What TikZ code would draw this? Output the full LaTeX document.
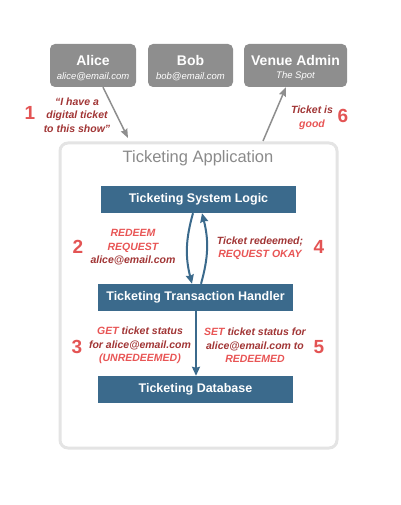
\documentclass[tikz,border=0pt]{standalone}
\usepackage{fontspec}
\setmainfont{Liberation Sans}
\usetikzlibrary{arrows.meta}
\definecolor{boxgray}{HTML}{8E8E8E}
\definecolor{appgray}{HTML}{E4E4E4}
\definecolor{titlegray}{HTML}{8A8A8A}
\definecolor{appblue}{HTML}{3B6A8C}
\definecolor{darkred}{HTML}{A13535}
\definecolor{lightred}{HTML}{E85555}
\definecolor{numred}{HTML}{E35454}
\tikzset{
  userbox/.style={fill=boxgray, rounded corners=5pt, minimum height=43pt, inner sep=0pt},
  usertext/.style={inner sep=0pt, text=white, align=center},
  bluebox/.style={fill=appblue, minimum width=195pt, minimum height=27pt, inner sep=0pt, text=white, font=\fontsize{12.5}{14}\selectfont\bfseries},
  lbl/.style={align=center, inner sep=0pt, text=darkred, font=\fontsize{10.5}{13.5}\selectfont\bfseries\itshape},
  num/.style={inner sep=0pt, text=numred, font=\fontsize{19}{20}\selectfont\bfseries},
  grayarrow/.style={draw=boxgray, line width=1.5pt, -{Stealth[length=9pt,width=7pt,inset=1pt]}},
  bluearrow/.style={draw=appblue, line width=2pt, -{Stealth[length=9pt,width=8pt,inset=1pt]}},
}
\newcommand{\lr}[1]{\textcolor{lightred}{#1}}
\newcommand{\uname}[1]{{\fontsize{14}{16}\selectfont\bfseries #1}}
\newcommand{\usub}[1]{{\fontsize{9.5}{11}\selectfont\itshape #1}}
\begin{document}
\begin{tikzpicture}[x=1pt,y=-1pt]
\useasboundingbox (0,0) rectangle (400,505);
% application frame
\draw[appgray, line width=3pt, rounded corners=8pt] (60,143) rectangle (337,448);
\node[text=titlegray, font=\fontsize{16.5}{18}\selectfont, inner sep=0pt] (title) at (198,158) {Ticketing Application};
% users
\node[userbox, minimum width=86pt] (alice) at (93,65.5) {};
\node[userbox, minimum width=85pt] (bob) at (190.5,65.5) {};
\node[userbox, minimum width=103pt] (venue) at (295.5,65.5) {};
\node[usertext] (alicet) at (93,68) {\uname{Alice}\\[1.5pt]\usub{alice@email.com}};
\node[usertext] (bobt) at (190.5,68) {\uname{Bob}\\[1.5pt]\usub{bob@email.com}};
\node[usertext] (venuet) at (295.5,68) {\uname{Venue Admin}\\[1.5pt]\usub{The Spot}};
% blue boxes
\node[bluebox] (logic) at (198.5,199.5) {Ticketing System Logic};
\node[bluebox] (handler) at (195.5,297.5) {Ticketing Transaction Handler};
\node[bluebox] (db) at (195.5,389.5) {Ticketing Database};
% connectors
\coordinate (aliceend) at (128,138);
\coordinate (venuestart) at (263,141);
\draw[grayarrow] ([xshift=10pt]alice.south) -- (aliceend);
\draw[grayarrow] (venuestart) -- ([xshift=-9.5pt]venue.south);
\draw[bluearrow] ([xshift=-5.5pt]logic.south) to[bend right=15] ([xshift=-3.5pt]handler.north);
\draw[bluearrow] ([xshift=5.5pt]handler.north) to[bend right=15] ([xshift=3.5pt]logic.south);
\draw[bluearrow] ([xshift=0.5pt]handler.south) -- ([xshift=0.5pt]db.north);
% labels
\node[num] (n1) at (30,113) {1};
\node[lbl] (l1) at (77,115) {“I have a\\digital ticket\\to this show”};
\node[num] (n6) at (343,116) {6};
\node[lbl] (l6) at (312,118) {Ticket is\\\lr{good}};
\node[num] (n2) at (78,247) {2};
\node[lbl] (l2) at (133,247.5) {\lr{REDEEM}\\\lr{REQUEST}\\alice@email.com};
\node[num] (n4) at (319,247) {4};
\node[lbl] (l4) at (260,248) {Ticket redeemed;\\\lr{REQUEST OKAY}};
\node[num] (n3) at (77,347) {3};
\node[lbl] (l3) at (140,345.5) {\lr{GET} ticket status\\for alice@email.com\\\lr{(UNREDEEMED)}};
\node[num] (n5) at (319,347) {5};
\node[lbl] (l5) at (255,345.5) {\lr{SET} ticket status for\\alice@email.com to\\\lr{REDEEMED}};
\end{tikzpicture}
\end{document}
